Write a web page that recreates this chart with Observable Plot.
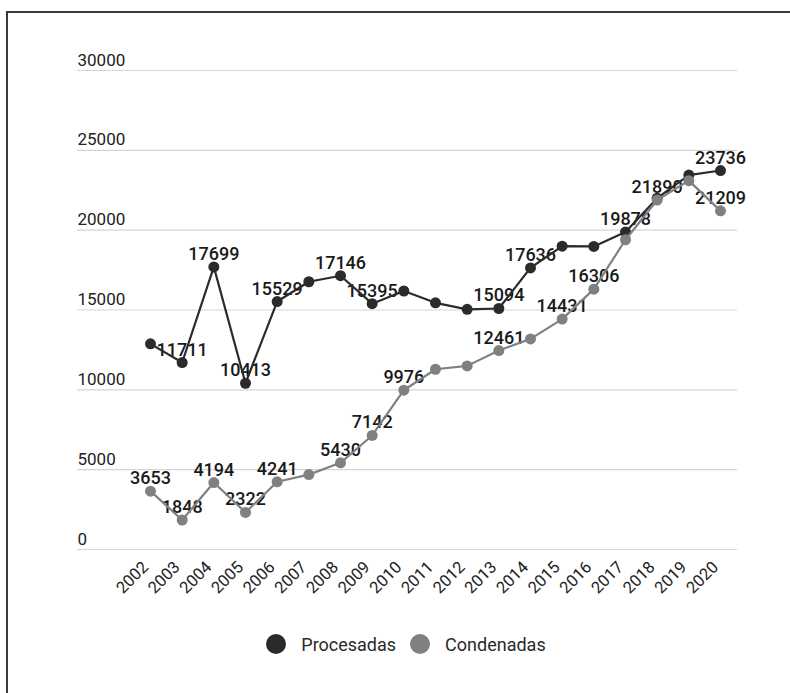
<!DOCTYPE html>
<html>
<head>
<meta charset="utf-8">
<script src="https://cdn.jsdelivr.net/npm/d3@7"></script>
<script src="https://cdn.jsdelivr.net/npm/@observablehq/plot@0.6"></script>
<style>
  html, body { margin: 0; padding: 0; background: #fff; overflow: hidden; }
  body { width: 790px; height: 693px; position: relative; font-family: Roboto, "Noto Sans", sans-serif; }
  #chart { position: absolute; left: 0; top: 0; }
  #frame {
    position: absolute; left: 6px; top: 11px; width: 2000px; height: 2000px;
    border-top: 2px solid #3a3a3a; border-left: 2px solid #3a3a3a;
    pointer-events: none; z-index: 2;
  }
  #legend {
    position: absolute; left: 0; top: 632px; width: 790px; height: 24px;
    display: flex; justify-content: center; align-items: center;
    font-family: Roboto, sans-serif; font-size: 18px; color: #2a2a2a;
    padding-left: 22px; box-sizing: border-box;
  }
  #legend .item { display: flex; align-items: center; margin: 0 7px; }
  #legend .sw { width: 20px; height: 20px; border-radius: 50%; display: inline-block; margin-right: 15px; }
</style>
</head>
<body>
<div id="frame"></div>
<div id="chart"></div>
<div id="legend"></div>
<script>
// Years on the horizontal axis
const years = ["2002", "2003", "2004", "2005", "2006", "2007", "2008", "2009", "2010", "2011",
               "2012", "2013", "2014", "2015", "2016", "2017", "2018", "2019", "2020"];

// Procesadas per year
const procesadas = [12880, 11711, 17699, 10413, 15529, 16770, 17146, 15395, 16190, 15450,
                    15040, 15094, 17636, 19000, 18980, 19878, 22000, 23450, 23736];
// Condenadas per year
const condenadas = [3653, 1848, 4194, 2322, 4241, 4690, 5430, 7142, 9976, 11290,
                    11500, 12461, 13190, 14431, 16306, 19400, 21890, 23100, 21209];

// Years whose value is printed above the point
const procesadasLabeled = ["2003", "2004", "2005", "2006", "2008", "2009", "2013", "2014", "2017", "2020"];
const condenadasLabeled = ["2002", "2003", "2004", "2005", "2006", "2008", "2009", "2010", "2013",
                           "2015", "2016", "2018", "2020"];

const yTicks = [0, 5000, 10000, 15000, 20000, 25000, 30000];

const seriesNames = ["Procesadas", "Condenadas"];
const seriesColors = ["#2b2b2b", "#808080"];

const rows = (name, values, labeled) =>
  years.map((year, i) => ({serie: name, year, value: values[i], labeled: labeled.includes(year)}));

const proc = rows(seriesNames[0], procesadas, procesadasLabeled);
const cond = rows(seriesNames[1], condenadas, condenadasLabeled);

const plot = Plot.plot({
  width: 790,
  height: 610,
  marginLeft: 77,
  marginRight: 53,
  marginTop: 70,
  marginBottom: 61,
  style: {background: "transparent", fontFamily: "Roboto, sans-serif"},
  x: {type: "point", domain: years, range: [150, 720], padding: 0, round: false, axis: null},
  y: {domain: [0, 30000], axis: null},
  marks: [
    Plot.ruleY(yTicks, {stroke: "#d6d6d6", strokeWidth: 1.2}),
    Plot.text(yTicks, {
      y: d => d, frameAnchor: "left", textAnchor: "start", lineAnchor: "bottom",
      dy: -5, text: d => String(d), fontSize: 17, fill: "#222"
    }),
    Plot.text(years, {
      x: d => d, frameAnchor: "bottom", rotate: -45, textAnchor: "end", lineAnchor: "middle",
      dx: -5, dy: 15, text: d => d, fontSize: 16.5, fill: "#222"
    }),
    // value labels
    Plot.text(proc.filter(d => d.labeled), {
      x: "year", y: "value", text: d => String(d.value), lineAnchor: "bottom", dy: -7,
      fontSize: 18, fontWeight: 500, fill: "#1a1a1a"
    }),
    Plot.text(cond.filter(d => d.labeled), {
      x: "year", y: "value", text: d => String(d.value), lineAnchor: "bottom", dy: -7,
      fontSize: 18, fontWeight: 500, fill: "#1a1a1a"
    }),
    // Procesadas
    Plot.line(proc, {x: "year", y: "value", stroke: seriesColors[0], strokeWidth: 2.2}),
    Plot.dot(proc, {x: "year", y: "value", r: 5.5, fill: seriesColors[0], stroke: "none"}),
    // Condenadas
    Plot.line(cond, {x: "year", y: "value", stroke: seriesColors[1], strokeWidth: 2.2}),
    Plot.dot(cond, {x: "year", y: "value", r: 5.5, fill: seriesColors[1], stroke: "none"})
  ]
});
document.getElementById("chart").appendChild(plot);

const legend = document.getElementById("legend");
seriesNames.forEach((name, i) => {
  const item = document.createElement("span");
  item.className = "item";
  const sw = document.createElement("span");
  sw.className = "sw";
  sw.style.background = seriesColors[i];
  item.appendChild(sw);
  item.appendChild(document.createTextNode(name));
  legend.appendChild(item);
});
</script>
</body>
</html>
